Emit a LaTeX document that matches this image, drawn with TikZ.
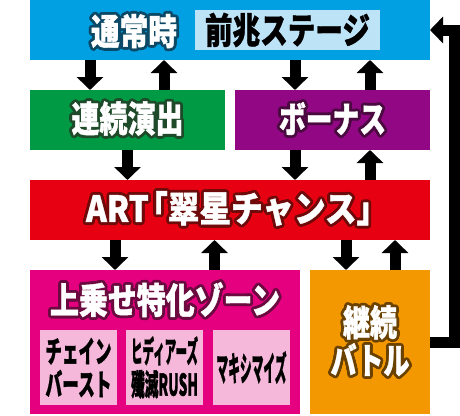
\documentclass[tikz,border=0pt]{standalone}
\usepackage{fontspec}
\setmainfont{Noto Sans CJK JP}[BoldFeatures={FakeBold=1.2}]
\usepackage{graphicx}
\usepackage{contour}
\contourlength{2.8pt}
\usetikzlibrary{arrows.meta}

\definecolor{tsujoblue}{HTML}{00A0E3}
\definecolor{tsujodark}{HTML}{0B4966}
\definecolor{zenchoblue}{HTML}{BDE3F7}
\definecolor{renzokugreen}{HTML}{009A44}
\definecolor{renzokudark}{HTML}{1E4A2A}
\definecolor{bonuspurple}{HTML}{920783}
\definecolor{bonusdark}{HTML}{4A0A40}
\definecolor{artred}{HTML}{E60012}
\definecolor{artdark}{HTML}{6E0A0A}
\definecolor{uwanosepink}{HTML}{E4007F}
\definecolor{uwanosedark}{HTML}{6A0A3F}
\definecolor{lightpink}{HTML}{F5B8DA}
\definecolor{keizokuorange}{HTML}{F39800}
\definecolor{keizokudark}{HTML}{6B4100}

\newsavebox{\squeezebox}
\NewDocumentCommand{\squeezeto}{mm}{%
	\sbox{\squeezebox}{#2}%
	\scalebox{\fpeval{(#1)/(\the\wd\squeezebox)}}[1]{\usebox{\squeezebox}}}

\begin{document}
\begin{tikzpicture}[
	x=1pt, y=-1pt,
	cell/.style={
		rectangle,
		inner sep=0pt,
		outer sep=0pt,
		align=center,
		text=white,
		font=\bfseries\fontsize{36}{33}\selectfont
	},
	subcell/.style={
		rectangle,
		inner sep=0pt,
		outer sep=0pt,
		fill=lightpink,
		align=center,
		text=black,
		minimum width=77pt,
		minimum height=75pt,
		font=\bfseries\fontsize{30}{33}\selectfont
	},
	BlockArrow/.style={% Thick black block arrows
		line width=11pt,
		-{Triangle[width=26pt,length=13pt]},
	},
]
	\useasboundingbox (0,0) rectangle (460,415);

	\node [cell, fill=tsujoblue, minimum width=400pt, minimum height=60pt] (tsujo) at (230,30) {};
	\node [cell] (tsujolabel) at (134,32.5) {\contour{tsujodark}{\squeezeto{86pt}{通常時}}};
	\node [cell, fill=zenchoblue, text=black, minimum width=185pt, minimum height=40pt] (zencho) at (287.5,30) {\squeezeto{165pt}{前兆ステージ}};

	\node [cell, fill=renzokugreen, minimum width=195pt, minimum height=60pt] (renzoku) at (127.5,120) {\contour{renzokudark}{\squeezeto{112pt}{連続演出}}};
	\node [cell, fill=bonuspurple, minimum width=195pt, minimum height=60pt] (bonus) at (332.5,120) {\contour{bonusdark}{\squeezeto{107pt}{ボーナス}}};

	\node [cell, fill=artred, minimum width=400pt, minimum height=60pt] (art) at (230,210) {\contour{artdark}{\squeezeto{288pt}{ART\kern-0.4em「翠星チャンス」\kern-0.45em}}};

	\node [cell, fill=uwanosepink, minimum width=270pt, minimum height=144pt] (uwanose) at (165,342) {};
	\node [cell] (uwanoselabel) at (165,301) {\contour{uwanosedark}{\squeezeto{230pt}{上乗せ特化ゾーン}}};
	\node [subcell] (chain) at (78.5,367.5) {\squeezeto{66pt}{チェイン}\\\squeezeto{66pt}{バースト}};
	\node [subcell] (hideous) at (164.5,367.5) {\squeezeto{67pt}{ヒディアーズ}\\\squeezeto{67pt}{殲滅RUSH}};
	\node [subcell, font=\bfseries\fontsize{34}{33}\selectfont] (maxi) at (251.5,367.5) {\squeezeto{70pt}{マキシマイズ}};

	\node [cell, fill=keizokuorange, minimum width=120pt, minimum height=144pt] (keizoku) at (370,342) {\contour{keizokudark}{\squeezeto{54pt}{継続}}\\\contour{keizokudark}{\squeezeto{79pt}{バトル}}};

	\draw [BlockArrow] ([xshift=-140pt]tsujo.south) -- ([xshift=-37.5pt]renzoku.north);
	\draw [BlockArrow] ([xshift=36.5pt]renzoku.north) -- ([xshift=-66pt]tsujo.south);
	\draw [BlockArrow] ([xshift=65pt]tsujo.south) -- ([xshift=-37.5pt]bonus.north);
	\draw [BlockArrow] ([xshift=37.5pt]bonus.north) -- ([xshift=140pt]tsujo.south);

	\draw [BlockArrow] (renzoku.south) -- ([xshift=-102.5pt]art.north);
	\draw [BlockArrow] ([xshift=-37.5pt]bonus.south) -- ([xshift=65pt]art.north);
	\draw [BlockArrow] ([xshift=140pt]art.north) -- ([xshift=37.5pt]bonus.south);

	\draw [BlockArrow] ([xshift=-115pt]art.south) -- ([xshift=-50pt]uwanose.north);
	\draw [BlockArrow] ([xshift=49.5pt]uwanose.north) -- ([xshift=-15.5pt]art.south);
	\draw [BlockArrow] ([xshift=116pt]art.south) -- ([xshift=-24pt]keizoku.north);
	\draw [BlockArrow] ([xshift=25pt]keizoku.north) -- ([xshift=165pt]art.south);

	\draw [BlockArrow] (keizoku.east) -| ([xshift=24pt]tsujo.east) -- (tsujo.east);
\end{tikzpicture}
\end{document}
